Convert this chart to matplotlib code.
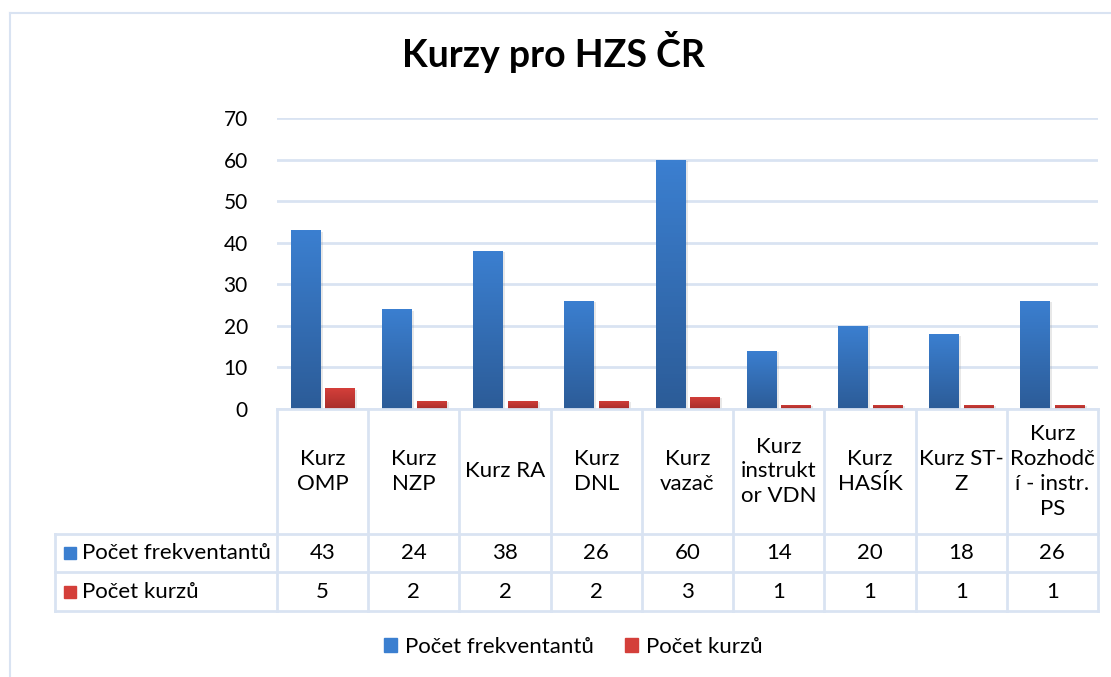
import matplotlib
matplotlib.use("Agg")
import matplotlib.pyplot as plt
import numpy as np
from matplotlib.patches import Patch, Rectangle
import matplotlib.patheffects as pe

categories = [
    "Kurz\nOMP", "Kurz\nNZP", "Kurz RA", "Kurz\nDNL", "Kurz\nvazač",
    "Kurz\ninstrukt\nor VDN", "Kurz\nHASÍK", "Kurz ST-\nZ",
    "Kurz\nRozhodč\ní - instr.\nPS",
]
series_names = ["Počet frekventantů", "Počet kurzů"]
frekventanti = [43, 24, 38, 26, 60, 14, 20, 18, 26]
kurzy = [5, 2, 2, 2, 3, 1, 1, 1, 1]
yticks = [0, 10, 20, 30, 40, 50, 60, 70]

W, H = 1111, 677
FONT = "Lato"
GRID = "#D9E3F2"
BLUE_TOP, BLUE_BOT = "#3B7FD0", "#2C5C98"
RED_TOP, RED_BOT = "#D43F3A", "#A82E2B"
FS = 16

plt.rcParams["font.family"] = [FONT, "DejaVu Sans"]

fig = plt.figure(figsize=(W / 100, H / 100), dpi=100)
fig.patch.set_facecolor("white")


def px(x0, y0, x1, y1):
    return [x0 / W, 1 - y1 / H, (x1 - x0) / W, (y1 - y0) / H]


# chart frame (only left and top edges visible)
fig.add_artist(plt.Line2D([10 / W, 10 / W], [0, 1 - 13 / H], color=GRID, lw=1.5))
fig.add_artist(plt.Line2D([10 / W, 1], [1 - 13 / H, 1 - 13 / H], color=GRID, lw=1.5))

fig.text(553 / W, 1 - 52 / H, "Kurzy pro HZS ČR", ha="center", va="center",
         fontsize=27, fontweight="bold", color="black")

# main bar axes
ax = fig.add_axes(px(277, 118, 1098, 409))
x = np.arange(len(categories))
bw = 0.32
off = 0.19


def gradient_bars(xs, vals, top, bot):
    bars = ax.bar(xs, vals, bw, color=bot, zorder=3,
                  path_effects=[pe.SimplePatchShadow(offset=(2, -1), alpha=0.18,
                                                     shadow_rgbFace="gray"),
                                pe.Normal()])
    c0 = np.array(matplotlib.colors.to_rgb(bot))
    c1 = np.array(matplotlib.colors.to_rgb(top))
    t = np.linspace(0, 1, 64)[:, None]
    grad = (c0 * (1 - t) + c1 * t)[:, None, :]
    for b in bars:
        im = ax.imshow(grad, extent=[b.get_x(), b.get_x() + b.get_width(), 0, b.get_height()],
                       origin="lower", aspect="auto", zorder=4)
        im.set_clip_path(b)
    return bars


gradient_bars(x - off, frekventanti, BLUE_TOP, BLUE_BOT)
gradient_bars(x + off, kurzy, RED_TOP, RED_BOT)

ax.set_xlim(-0.5, len(categories) - 0.5)
ax.set_ylim(0, 70)
ax.set_yticks(yticks)
ax.set_xticks([])
ax.yaxis.grid(True, color=GRID, lw=2)
ax.set_axisbelow(True)
for s in ax.spines.values():
    s.set_visible(False)
ax.tick_params(axis="y", length=0, labelsize=15, pad=21)

# data table
colw = (1098 - 277) / len(categories)
left_units = (277 - 55) / colw
tab = fig.add_axes(px(55, 409, 1098, 611))
tab.set_xlim(-0.5 - left_units, len(categories) - 0.5)
tab.set_ylim(202, 0)
tab.axis("off")

row_y = [0, 125, 163, 202]
x_left = -0.5 - left_units
x_first = -0.5
x_end = len(categories) - 0.5
lkw = dict(color=GRID, lw=2, clip_on=False)
tab.plot([x_first, x_end], [0, 0], **lkw)
for yy in row_y[1:]:
    tab.plot([x_left, x_end], [yy, yy], **lkw)
tab.plot([x_left, x_left], [row_y[1], row_y[3]], **lkw)
for i in range(len(categories) + 1):
    tab.plot([i - 0.5, i - 0.5], [0, row_y[3]], **lkw)

for i, cat in enumerate(categories):
    tab.text(i, row_y[1] / 2, cat, ha="center", va="center", fontsize=FS,
             linespacing=1.3)
    tab.text(i, (row_y[1] + row_y[2]) / 2, str(frekventanti[i]), ha="center",
             va="center", fontsize=FS)
    tab.text(i, (row_y[2] + row_y[3]) / 2, str(kurzy[i]), ha="center",
             va="center", fontsize=FS)

for k, (name, col) in enumerate(zip(series_names, [BLUE_TOP, RED_TOP])):
    yc = (row_y[k + 1] + row_y[k + 2]) / 2
    tab.add_patch(Rectangle((x_left + 9 / colw, yc - 6), 12 / colw, 12,
                            color=col, clip_on=False))
    tab.text(x_left + 27 / colw, yc, name, ha="left", va="center", fontsize=FS)

handles = [Patch(color=BLUE_TOP, label=series_names[0]),
           Patch(color=RED_TOP, label=series_names[1])]
fig.legend(handles=handles, loc="center", bbox_to_anchor=(573 / W, 1 - 647 / H),
           ncol=2, frameon=False, fontsize=FS, handlelength=0.6,
           handleheight=0.6, handletextpad=0.35, columnspacing=1.4)

fig.savefig("out.png", dpi=100)
